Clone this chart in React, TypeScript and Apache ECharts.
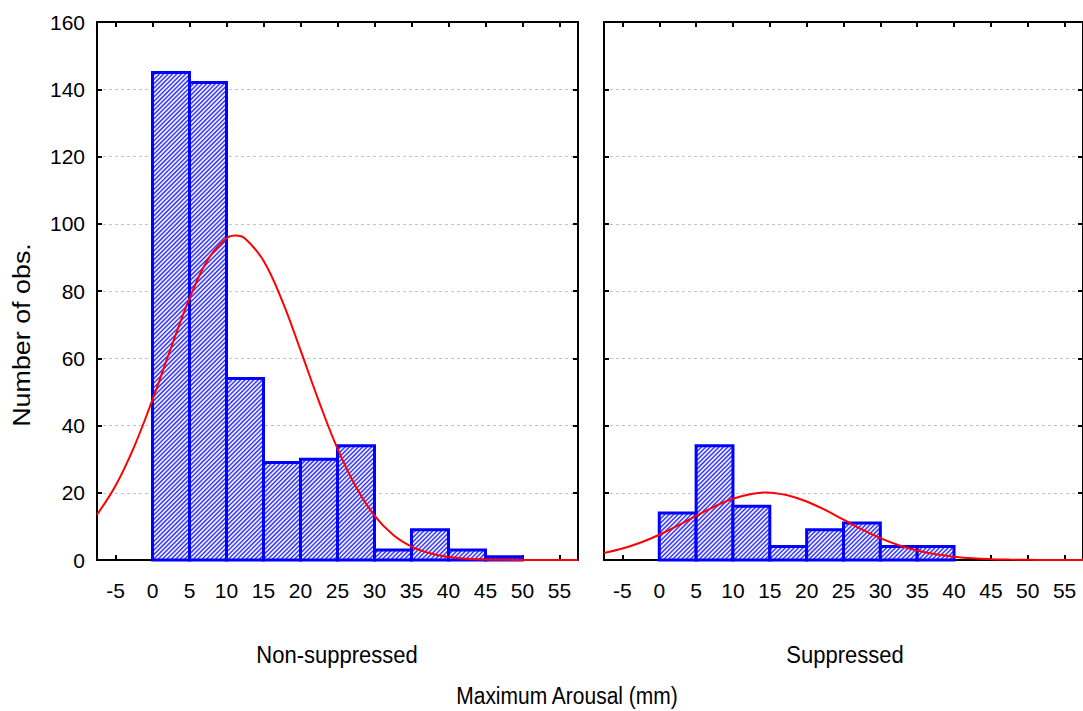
import React, { useEffect, useRef } from "react";
import * as echarts from "echarts";

const binStarts = [0, 5, 10, 15, 20, 25, 30, 35, 40, 45];
const binWidth = 5;
const nonSuppressedCounts = [145, 142, 54, 29, 30, 34, 3, 9, 3, 1];
const suppressedCounts = [14, 34, 16, 4, 9, 11, 4, 4];

const nonSuppressedCurveX = [-7.5, -5, -2.5, 0, 2.5, 5, 7.5, 10, 11.25, 12.5, 15, 17.5, 20, 22.5, 25, 27.5, 30, 32.5, 35, 37.5, 40, 42.5, 45, 47.5, 50, 52.5, 55, 57.5];
const nonSuppressedCurve = [13.5, 22.1, 33.6, 47.7, 63.1, 77.8, 89.4, 95.7, 96.5, 95.6, 89.0, 77.2, 62.4, 47.1, 33.1, 21.7, 13.2, 7.5, 4.0, 2.0, 0.9, 0.4, 0.16, 0.06, 0.02, 0.01, 0, 0];
const suppressedCurveX = [-7.5, -5, -2.5, 0, 2.5, 5, 7.5, 10, 12.5, 14.5, 17.5, 20, 22.5, 25, 27.5, 30, 32.5, 35, 37.5, 40, 42.5, 45, 47.5, 50, 52.5, 55, 57.5];
const suppressedCurve = [2.1, 3.4, 5.2, 7.5, 10.2, 13.1, 15.9, 18.2, 19.6, 20.1, 19.2, 17.4, 14.9, 12.0, 9.1, 6.5, 4.4, 2.8, 1.7, 1.0, 0.52, 0.26, 0.13, 0.06, 0.02, 0.01, 0];

const xTickValues = [-5, 0, 5, 10, 15, 20, 25, 30, 35, 40, 45, 50, 55];
const panelNames = ["Non-suppressed", "Suppressed"];
const xAxisTitle = "Maximum Arousal (mm)";
const yAxisTitle = "Number of obs.";

const FONT = "'Liberation Sans', Arial, sans-serif";
const HATCH_STEP = 4.4;

export default function App() {
  const ref = useRef<HTMLDivElement>(null);
  useEffect(() => {
    if (!ref.current) return;
    const chart = echarts.init(ref.current, undefined, { renderer: "svg" });

    const grids = [
      { left: 97, top: 22, width: 481, height: 538 },
      { left: 604, top: 22, width: 481, height: 538 },
    ];

    const xAxes: any[] = [];
    const yAxes: any[] = [];
    grids.forEach((_, i) => {
      const common = {
        gridIndex: i,
        type: "value",
        min: -7.5,
        max: 57.5,
        axisLine: { show: true, onZero: false, lineStyle: { color: "#000", width: 2 } },
        axisTick: { show: true, inside: true, length: 5, customValues: xTickValues, lineStyle: { color: "#000", width: 2 } },
        splitLine: { show: false },
      };
      xAxes.push({
        ...common,
        position: "bottom",
        axisLabel: { show: true, customValues: xTickValues, color: "#000", fontSize: 21, fontFamily: FONT, margin: 20 },
      });
      xAxes.push({ ...common, position: "top", axisLabel: { show: false } });
      const ycommon = {
        gridIndex: i,
        type: "value",
        min: 0,
        max: 160,
        interval: 20,
        axisLine: { show: true, onZero: false, lineStyle: { color: "#000", width: 2 } },
        axisTick: { show: true, inside: true, length: 5, lineStyle: { color: "#000", width: 2 } },
      };
      yAxes.push({
        ...ycommon,
        position: "left",
        axisLabel: { show: i === 0, color: "#000", fontSize: 21, fontFamily: FONT, margin: 12 },
        splitLine: { show: true, lineStyle: { color: "#c4c4c4", width: 1, type: [3, 3] } },
      });
      yAxes.push({ ...ycommon, position: "right", axisLabel: { show: false }, splitLine: { show: false } });
    });

    const barSeries = (counts: number[], idx: number) => ({
      type: "custom",
      xAxisIndex: idx * 2,
      yAxisIndex: idx * 2,
      encode: { x: [0, 1], y: 2 },
      data: counts.map((v, k) => [binStarts[k], binStarts[k] + binWidth, v]),
      renderItem: (params: any, api: any) => {
        const p0 = api.coord([api.value(0), api.value(2)]);
        const p1 = api.coord([api.value(1), 0]);
        const x0 = p0[0], y0 = p0[1], x1 = p1[0], y1 = p1[1];
        const children: any[] = [
          { type: "rect", shape: { x: x0, y: y0, width: x1 - x0, height: y1 - y0 }, style: { fill: "#f4f4ff", stroke: null } },
        ];
        const kStart = Math.ceil((x0 + y0) / HATCH_STEP);
        const kEnd = Math.floor((x1 + y1) / HATCH_STEP);
        for (let k = kStart; k <= kEnd; k++) {
          const cc = k * HATCH_STEP;
          const ya = Math.max(y0, cc - x1);
          const yb = Math.min(y1, cc - x0);
          if (yb - ya < 0.3) continue;
          children.push({
            type: "line",
            shape: { x1: cc - ya, y1: ya, x2: cc - yb, y2: yb },
            style: { stroke: "#3a3aff", lineWidth: 1.5 },
          });
        }
        children.push({
          type: "rect",
          shape: { x: x0, y: y0, width: x1 - x0, height: y1 - y0 },
          style: { fill: null, stroke: "#0000ff", lineWidth: 3 },
        });
        return { type: "group", children };
      },
      z: 2,
    });

    const curveSeries = (xs: number[], vals: number[], idx: number) => ({
      type: "line",
      xAxisIndex: idx * 2,
      yAxisIndex: idx * 2,
      data: xs.map((x, k) => [x, vals[k]]),
      smooth: 0.4,
      showSymbol: false,
      symbol: "none",
      lineStyle: { color: "#ff0000", width: 2 },
      z: 3,
    });

    chart.setOption({
      animation: false,
      backgroundColor: "#ffffff",
      grid: grids,
      xAxis: xAxes,
      yAxis: yAxes,
      series: [
        barSeries(nonSuppressedCounts, 0),
        barSeries(suppressedCounts, 1),
        curveSeries(nonSuppressedCurveX, nonSuppressedCurve, 0),
        curveSeries(suppressedCurveX, suppressedCurve, 1),
      ],
      graphic: [
        {
          type: "text",
          x: 337,
          y: 655,
          scaleY: 1.12,
          style: { text: panelNames[0], fontSize: 22, fontFamily: FONT, fill: "#000", align: "center", verticalAlign: "middle" },
        },
        {
          type: "text",
          x: 845,
          y: 655,
          scaleY: 1.12,
          style: { text: panelNames[1], fontSize: 22, fontFamily: FONT, fill: "#000", align: "center", verticalAlign: "middle" },
        },
        {
          type: "text",
          x: 567,
          y: 696,
          scaleY: 1.12,
          style: { text: xAxisTitle, fontSize: 21, fontFamily: FONT, fill: "#000", align: "center", verticalAlign: "middle" },
        },
        {
          type: "text",
          x: 22,
          y: 335,
          rotation: Math.PI / 2,
          scaleX: 1.12,
          style: { text: yAxisTitle, fontSize: 24, fontFamily: FONT, fill: "#000", align: "center", verticalAlign: "middle" },
        },
      ],
    });

    return () => chart.dispose();
  }, []);

  return <div ref={ref} style={{ position: "absolute", left: 0, top: 0, width: 1083, height: 711, background: "#fff" }} />;
}
